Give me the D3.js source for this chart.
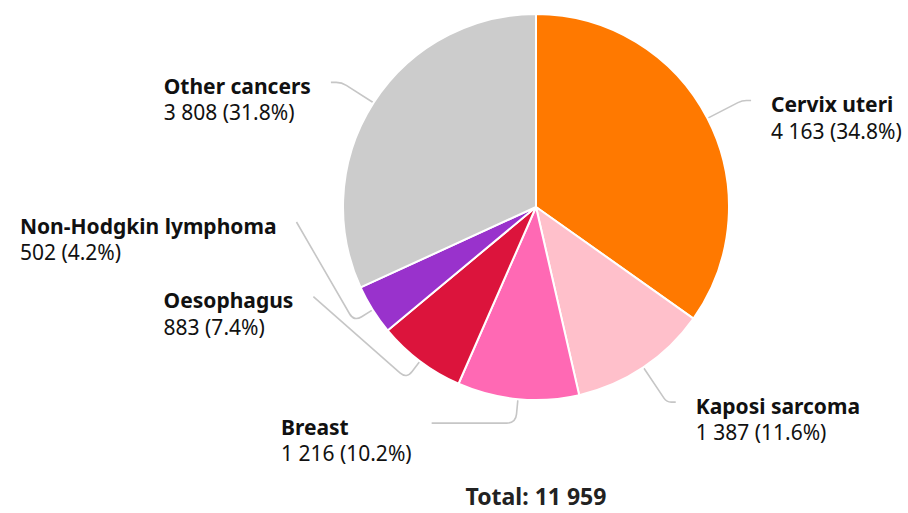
<!DOCTYPE html>
<html>
<head>
<meta charset="utf-8">
<script src="https://cdn.jsdelivr.net/npm/d3@7"></script>
<style>
  html, body { margin: 0; padding: 0; background: #fff; }
  svg { display: block; font-family: "Noto Sans", sans-serif; }
</style>
</head>
<body>
<svg width="908" height="513"></svg>
<script>
// Data
const categories = ['Cervix uteri', 'Kaposi sarcoma', 'Breast', 'Oesophagus', 'Non-Hodgkin lymphoma', 'Other cancers'];
const counts     = [4163, 1387, 1216, 883, 502, 3808];
const colors     = ['#ff7900', '#ffc0cb', '#ff69b4', '#dc143c', '#9932cc', '#cccccc'];

// Layout: how far (degrees) each label is slid round the label circle
// away from its slice's middle, so the small slices' labels don't collide
const labelNudge = [1.0, -1.8, 20.4, 31.1, 28.6, -1.4];

const fmtNum = d3.formatLocale({ decimal: '.', thousands: ' ', grouping: [3], currency: ['', ''] }).format(',');

function draw () {
  let svg = d3.select('svg');

  let cx = 536, cy = 207,
      radius = 193,
      labelR = 240,
      gap = 20;

  let total = d3.sum(counts);
  let rows = categories.map((c, i) => ({ name: c, value: counts[i], color: colors[i], nudge: labelNudge[i] }));

  let pie = d3.pie().sort(null).value(d => d.value);
  let arc = d3.arc().innerRadius(0).outerRadius(radius);
  let arcs = pie(rows);

  let conn   = svg.append('g').attr('class', 'connectors');
  let g      = svg.append('g').attr('transform', `translate(${cx},${cy})`);
  let labels = svg.append('g').attr('class', 'labels');

  g.selectAll('path.slice')
    .data(arcs)
    .enter().append('path')
      .attr('class', 'slice')
      .attr('d', arc)
      .attr('fill', d => d.data.color)
      .attr('stroke', '#fff')
      .attr('stroke-width', 2)
      .attr('stroke-linejoin', 'round');

  arcs.forEach(a => {
    let mid = (a.startAngle + a.endAngle) / 2;
    let ang = mid + a.data.nudge * Math.PI / 180;
    let right = Math.sin(ang) >= 0;
    let ax = cx + labelR * Math.sin(ang),
        ay = cy - labelR * Math.cos(ang);

    let t = labels.append('text')
      .attr('font-size', 21)
      .attr('fill', '#111');
    t.append('tspan').attr('class', 'l1').attr('font-weight', 700).text(a.data.name);
    t.append('tspan').attr('class', 'l2')
      .text(`${fmtNum(a.data.value)} (${(a.data.value / total * 100).toFixed(1)}%)`);
    let w = Math.max(t.select('.l1').node().getComputedTextLength(),
                     t.select('.l2').node().getComputedTextLength());
    let x0 = right ? ax + gap : ax - gap - w;

    t.attr('x', x0).attr('y', ay + 11.5);
    t.select('.l1').attr('x', x0);
    t.select('.l2').attr('x', x0).attr('dy', 26.5);

    // connector: label -> bend on slice's radial line -> slice edge
    let sinM = Math.sin(mid), cosM = Math.cos(mid);
    let rb = Math.abs(cosM) > 1e-3 ? (cy - ay) / cosM : -1;
    if (!(rb >= radius + 18 && rb <= radius + 50)) rb = radius + 22;

    let P0 = [ax, ay],
        P1 = [cx + rb * sinM, cy - rb * cosM],
        P2 = [cx + (radius + 1) * sinM, cy - (radius + 1) * cosM];

    let d01 = Math.hypot(P0[0] - P1[0], P0[1] - P1[1]),
        d21 = Math.hypot(P2[0] - P1[0], P2[1] - P1[1]);
    let rr = Math.min(9, d01 / 2, d21 / 2);
    let u1 = [(P0[0] - P1[0]) / d01, (P0[1] - P1[1]) / d01],
        u2 = [(P2[0] - P1[0]) / d21, (P2[1] - P1[1]) / d21];

    let p = d3.path();
    p.moveTo(P0[0], P0[1]);
    p.lineTo(P1[0] + u1[0] * rr, P1[1] + u1[1] * rr);
    p.quadraticCurveTo(P1[0], P1[1], P1[0] + u2[0] * rr, P1[1] + u2[1] * rr);
    p.lineTo(P2[0], P2[1]);

    conn.append('path')
      .attr('d', p.toString())
      .attr('fill', 'none')
      .attr('stroke', '#c6c6c6')
      .attr('stroke-width', 1.6);
  });

  // Total
  svg.append('text')
    .attr('x', cx)
    .attr('y', 505)
    .attr('text-anchor', 'middle')
    .attr('font-size', 23)
    .attr('font-weight', 700)
    .attr('fill', '#222')
    .text(`Total: ${fmtNum(total)}`);
}

document.addEventListener('DOMContentLoaded', draw);
</script>
</body>
</html>
